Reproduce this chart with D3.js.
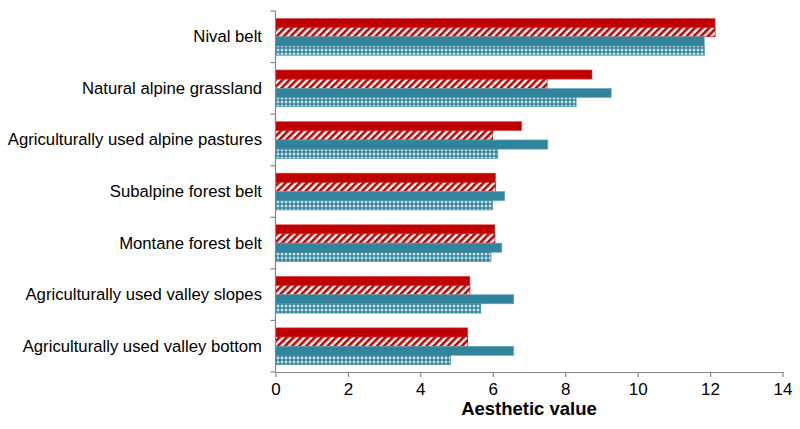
<!DOCTYPE html>
<html>
<head>
<meta charset="utf-8">
<script src="https://cdn.jsdelivr.net/npm/d3@7"></script>
<style>
body{margin:0;background:#fff;}
svg{display:block;font-family:"Liberation Sans",Arial,sans-serif;}
</style>
</head>
<body>
<svg id="chart" width="800" height="429"></svg>
<script>
const categories = ["Nival belt","Natural alpine grassland","Agriculturally used alpine pastures","Subalpine forest belt","Montane forest belt","Agriculturally used valley slopes","Agriculturally used valley bottom"];
const seriesNames = ["s1","s2","s3","s4"];
const s1 = [12.14, 8.74, 6.80, 6.08, 6.06, 5.37, 5.31];
const s2 = [12.14, 7.50, 6.00, 6.08, 6.06, 5.37, 5.31];
const s3 = [11.84, 9.27, 7.52, 6.33, 6.25, 6.58, 6.58];
const s4 = [11.84, 8.30, 6.14, 5.99, 5.95, 5.67, 4.84];
const xTicks = [0,2,4,6,8,10,12,14];

const svg = d3.select("#chart");
const defs = svg.append("defs");
// diagonal red hatch
const ph = defs.append("pattern").attr("id","hatch").attr("patternUnits","userSpaceOnUse")
  .attr("width",5).attr("height",5).attr("patternTransform","rotate(45)");
ph.append("rect").attr("width",5).attr("height",5).attr("fill","#ffffff");
ph.append("rect").attr("width",2.6).attr("height",5).attr("fill","#C00000");
// teal cross pattern
const pc = defs.append("pattern").attr("id","cross").attr("patternUnits","userSpaceOnUse")
  .attr("width",4).attr("height",4);
pc.append("rect").attr("width",4).attr("height",4).attr("fill","#31849B");
pc.append("path").attr("d","M2,0.3 L3.7,2 L2,3.7 L0.3,2 Z").attr("fill","#ffffff");
pc.append("rect").attr("x",1.5).attr("y",1.5).attr("width",1).attr("height",1).attr("fill","#31849B");

const fills = ["#C00000","url(#hatch)","#31849B","url(#cross)"];
const strokes = ["#e06666","#C00000","#6fb0c2","#31849B"];
const data = categories.map((c,i)=>({cat:c, vals:[s1[i],s2[i],s3[i],s4[i]]}));

const x = d3.scaleLinear().domain([0,14]).range([275.5,782.5]);
const y = d3.scaleBand().domain(categories).range([11,372]).paddingInner(0.286).paddingOuter(0.143);
const ys = d3.scaleBand().domain(seriesNames).range([0,y.bandwidth()]);

const g = svg.append("g");
data.forEach(d=>{
  seriesNames.forEach((s,j)=>{
    g.append("rect")
      .attr("x",x(0))
      .attr("y",y(d.cat)+ys(s))
      .attr("width",x(d.vals[j])-x(0))
      .attr("height",ys.bandwidth())
      .attr("fill",fills[j])
      .attr("stroke",strokes[j]).attr("stroke-width",0.6);
  });
});

// y axis with ticks between categories
const axisColor = "#868686";
const yLineX = 275.5;
svg.append("line").attr("x1",yLineX).attr("x2",yLineX).attr("y1",11).attr("y2",372).attr("stroke",axisColor).attr("stroke-width",1.2);
const bStep = (372-11)/categories.length;
d3.range(categories.length+1).forEach(i=>{
  const yy = 11 + i*bStep;
  svg.append("line").attr("x1",yLineX-5).attr("x2",yLineX).attr("y1",yy).attr("y2",yy).attr("stroke",axisColor).attr("stroke-width",1.2);
});
svg.append("g").selectAll("text").data(categories).join("text")
  .attr("x",262).attr("y",d=>y(d)+y.bandwidth()/2)
  .attr("text-anchor","end").attr("dominant-baseline","central")
  .attr("font-size",16.7).attr("fill","#000").text(d=>d);

// x axis
const xAxis = svg.append("g").attr("transform","translate(0,372)")
  .call(d3.axisBottom(x).tickValues(xTicks).tickSize(5).tickSizeOuter(0).tickPadding(6));
xAxis.select(".domain").attr("stroke",axisColor).attr("stroke-width",1.2);
xAxis.selectAll(".tick line").attr("stroke",axisColor).attr("stroke-width",1.2);
xAxis.selectAll(".tick text").attr("font-size",17).attr("fill","#000").attr("font-family","Liberation Sans, Arial, sans-serif");

svg.append("text").attr("x",529).attr("y",415).attr("text-anchor","middle")
  .attr("font-size",18.5).attr("font-weight","bold").attr("fill","#000").text("Aesthetic value");
</script>
</body>
</html>
